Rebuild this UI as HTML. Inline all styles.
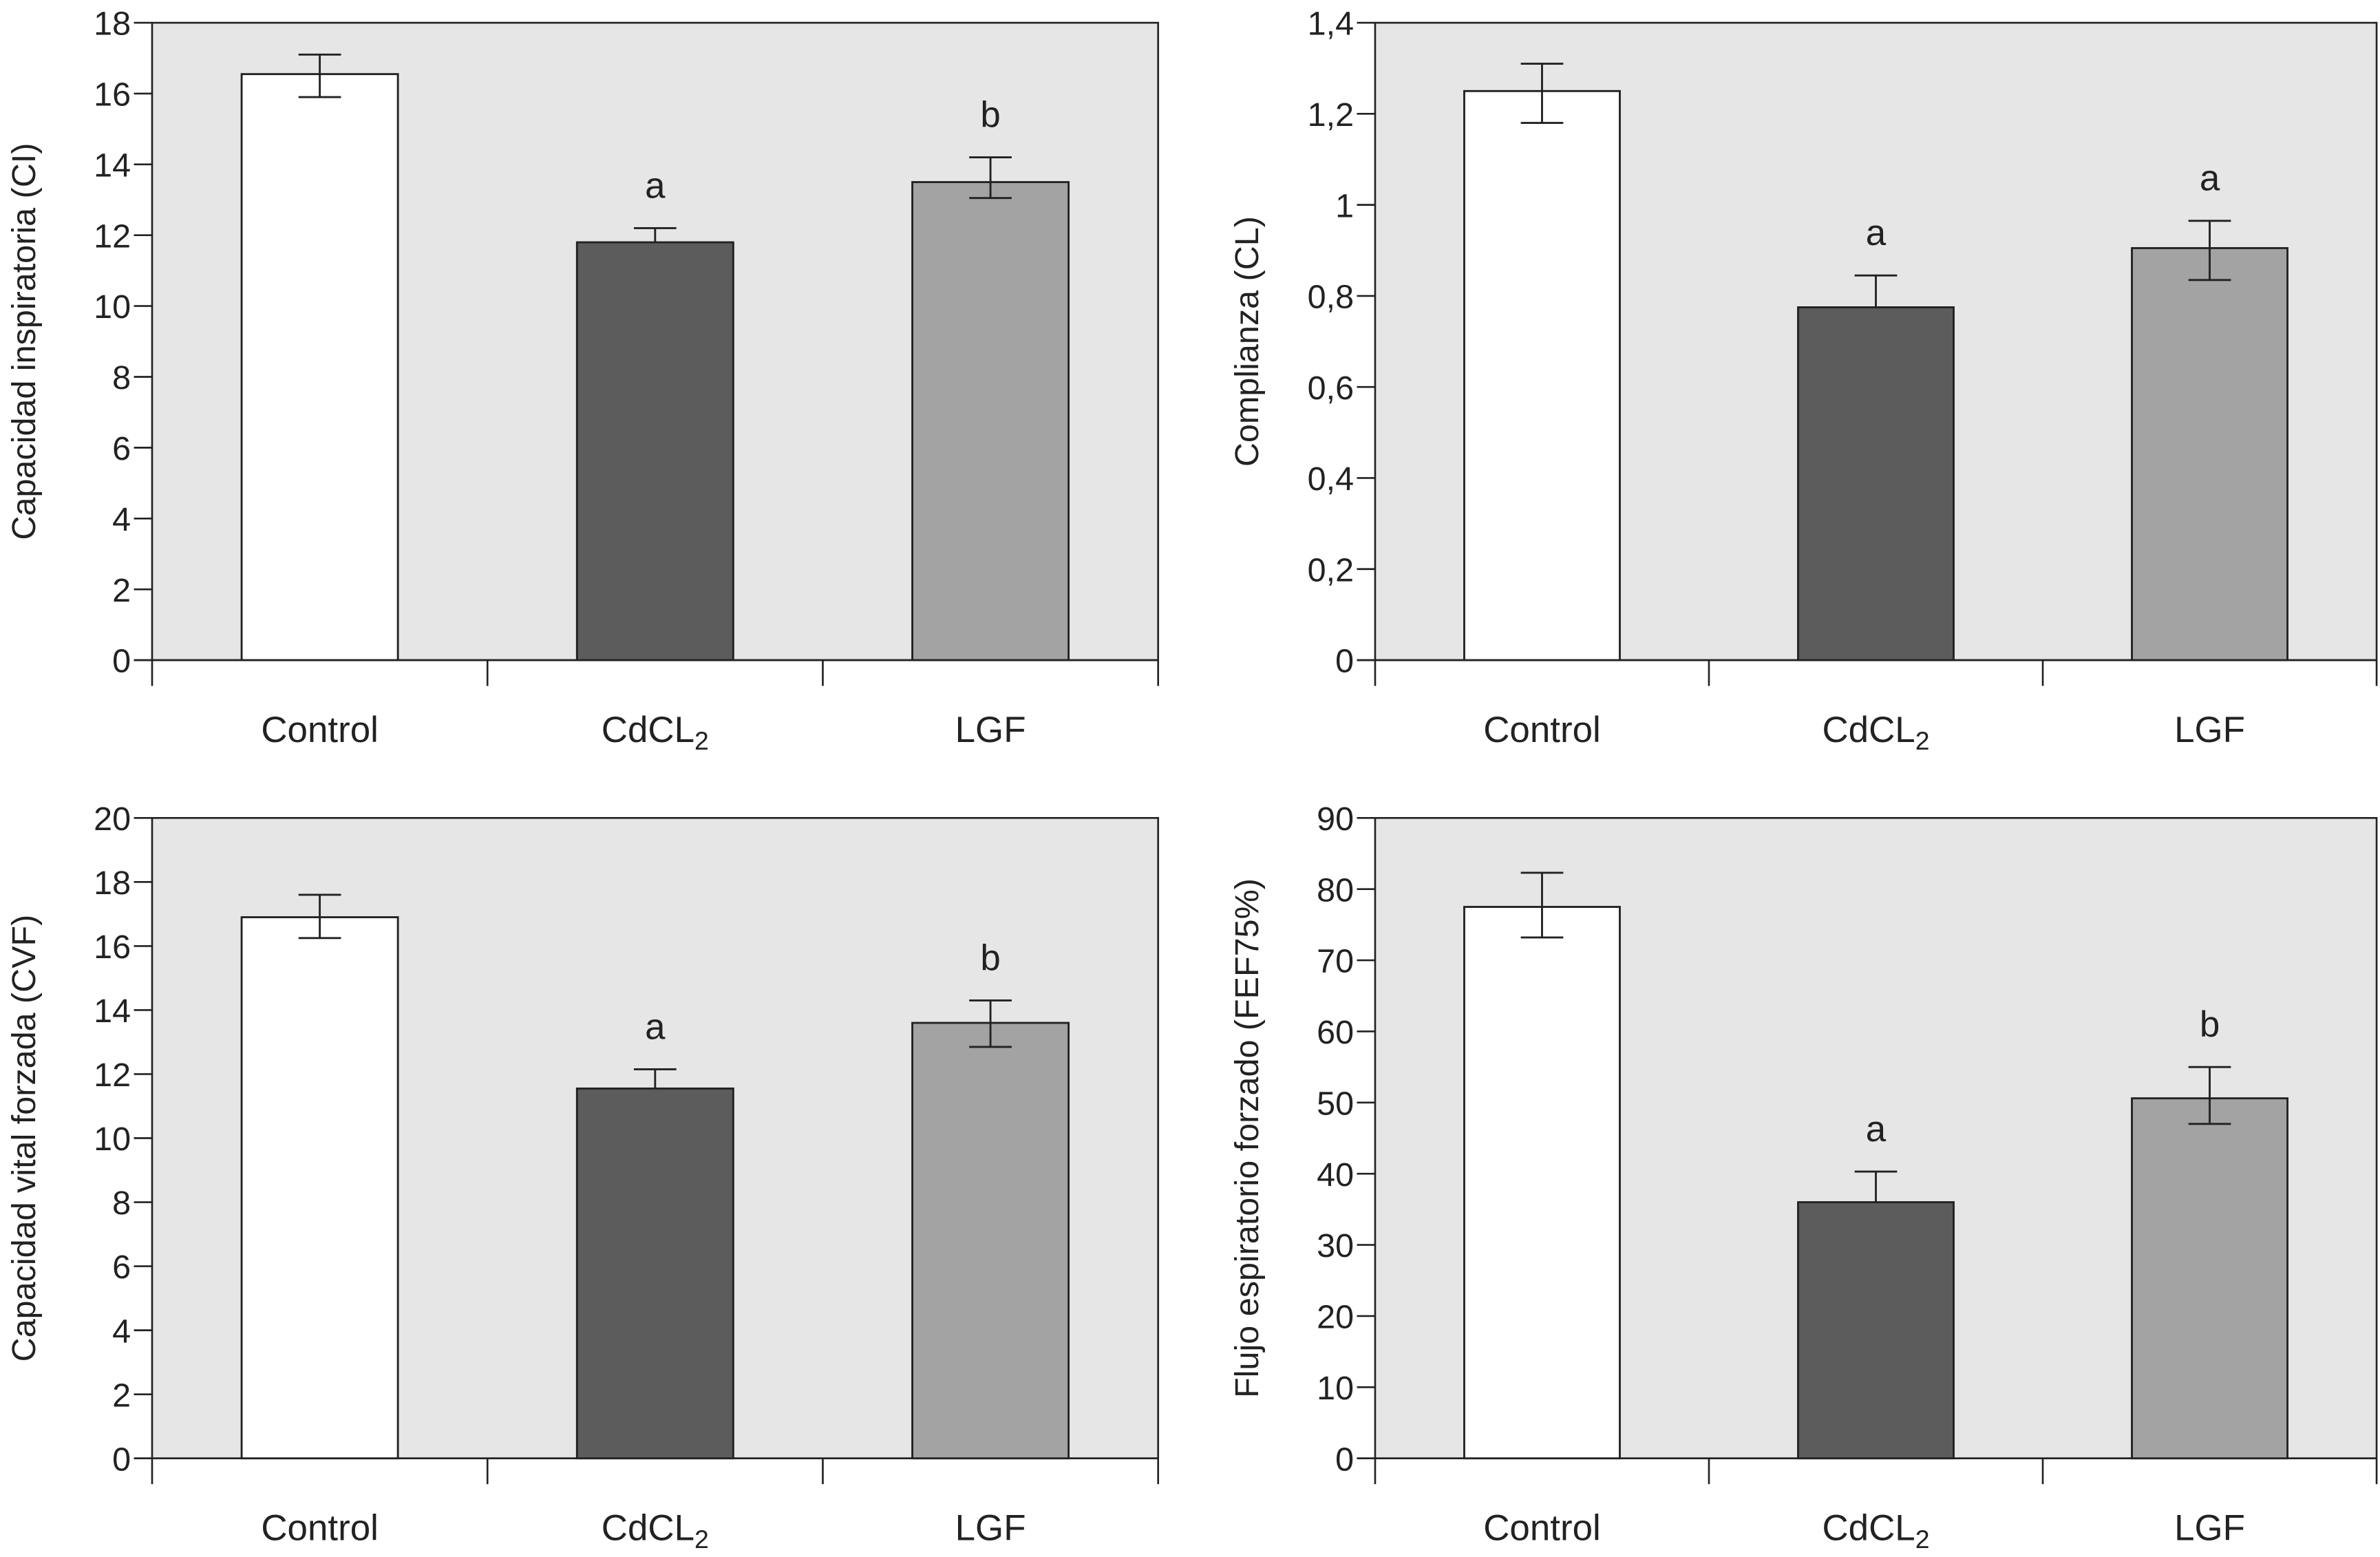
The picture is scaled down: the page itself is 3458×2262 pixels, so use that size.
<!DOCTYPE html>
<html><head><meta charset="utf-8"><style>
html,body{margin:0;padding:0;background:#fff;}
svg{display:block;font-family:"Liberation Sans",Arial,sans-serif;}
</style></head><body>
<svg id="fig" width="3458" height="2262" viewBox="0 0 1568 1026" xmlns="http://www.w3.org/2000/svg"></svg>
<script>
const categories = ["Control","CdCL2","LGF"];
const ciValues = [16.55, 11.8, 13.5];
const ciErrLow = [15.9, 11.8, 13.05];
const ciErrHigh = [17.1, 12.2, 14.2];
const ciLetters = ["", "a", "b"];
const clValues = [1.25, 0.775, 0.905];
const clErrLow = [1.18, 0.775, 0.835];
const clErrHigh = [1.31, 0.845, 0.965];
const clLetters = ["", "a", "a"];
const cvfValues = [16.9, 11.55, 13.6];
const cvfErrLow = [16.25, 11.55, 12.85];
const cvfErrHigh = [17.6, 12.15, 14.3];
const cvfLetters = ["", "a", "b"];
const fefValues = [77.5, 36, 50.6];
const fefErrLow = [73.2, 36, 47];
const fefErrHigh = [82.3, 40.3, 55];
const fefLetters = ["", "a", "b"];
const ciTicks = [0,2,4,6,8,10,12,14,16,18];
const clTicks = [0,0.2,0.4,0.6,0.8,1,1.2,1.4];
const cvfTicks = [0,2,4,6,8,10,12,14,16,18,20];
const fefTicks = [0,10,20,30,40,50,60,70,80,90];

const NS="http://www.w3.org/2000/svg";
const svg=document.getElementById('fig');
const fills=["#ffffff","#5c5c5c","#a3a3a3"];
function mk(tag,attrs,parent){const e=document.createElementNS(NS,tag);for(const k in attrs)e.setAttribute(k,attrs[k]);(parent||svg).appendChild(e);return e;}

function panel(name,x0,x1,yTop,yZero,ticks,vals,lo,hi,letters,title,fmt){
  const g=mk('g',{});
  
  
  const max=ticks[ticks.length-1];
  const y=v=>yZero-(v/max)*(yZero-yTop);
  const bw=(x1-x0)/3;
  const bg=mk('rect',{x:x0,y:yTop,width:x1-x0,height:yZero-yTop,fill:'#e6e6e6',stroke:'#222','stroke-width':1.2},g);
  
  
  ticks.forEach(t=>{
    mk('line',{x1:x0-12,x2:x0,y1:y(t),y2:y(t),stroke:'#222','stroke-width':1.2},g);
    const tl=mk('text',{x:x0-14,y:y(t)+8,'text-anchor':'end','font-size':22,fill:'#222'},g);
    tl.textContent=fmt(t);
    
    
  });
  mk('line',{x1:x0-12,x2:x1,y1:yZero,y2:yZero,stroke:'#222','stroke-width':1.2},g);
  for(let i=0;i<=3;i++){mk('line',{x1:x0+i*bw,x2:x0+i*bw,y1:yZero,y2:yZero+17,stroke:'#222','stroke-width':1.2},g);}
  const t=mk('text',{x:0,y:0,'text-anchor':'middle','font-size':22,fill:'#222',transform:`translate(${x0-77},${(yTop+yZero)/2}) rotate(-90)`},g);
  t.textContent=title;
  
  
  categories.forEach((c,i)=>{
    const cx=x0+bw*(i+0.5);
    const half=bw*0.233;
    const b=mk('rect',{x:cx-half,y:y(vals[i]),width:half*2,height:yZero-y(vals[i]),fill:fills[i],stroke:'#222','stroke-width':1.3},g);
    
    
    mk('line',{x1:cx,x2:cx,y1:y(lo[i]),y2:y(hi[i]),stroke:'#222','stroke-width':1.3},g);
    mk('line',{x1:cx-14,x2:cx+14,y1:y(hi[i]),y2:y(hi[i]),stroke:'#222','stroke-width':1.3},g);
    if(lo[i]<vals[i]) mk('line',{x1:cx-14,x2:cx+14,y1:y(lo[i]),y2:y(lo[i]),stroke:'#222','stroke-width':1.3},g);
    if(letters[i]){
      const l=mk('text',{x:cx,y:y(hi[i])-20,'text-anchor':'middle','font-size':24,fill:'#222'},g);
      l.textContent=letters[i];
      
      
    }
    const lab=mk('text',{x:cx,y:yZero+54,'text-anchor':'middle','font-size':24,fill:'#222'},g);
    if(c==="CdCL2"){lab.textContent="CdCL";const s=mk('tspan',{'font-size':17,dy:5},lab);s.textContent="2";}
    else lab.textContent=c;
    
    
  });
}
const intF=v=>String(v);
const commaF=v=>String(Math.round(v*10)/10).replace('.',',');
panel('panel-ci',100,763,15,435,ciTicks,ciValues,ciErrLow,ciErrHigh,ciLetters,'Capacidad inspiratoria (CI)',intF);
panel('panel-cl',906,1566,15,435,clTicks,clValues,clErrLow,clErrHigh,clLetters,'Complianza (CL)',commaF);
panel('panel-cvf',100,763,539,961,cvfTicks,cvfValues,cvfErrLow,cvfErrHigh,cvfLetters,'Capacidad vital forzada (CVF)',intF);
panel('panel-fef',906,1566,539,961,fefTicks,fefValues,fefErrLow,fefErrHigh,fefLetters,'Flujo espiratorio forzado (FEF75%)',intF);
</script>
</body></html>
